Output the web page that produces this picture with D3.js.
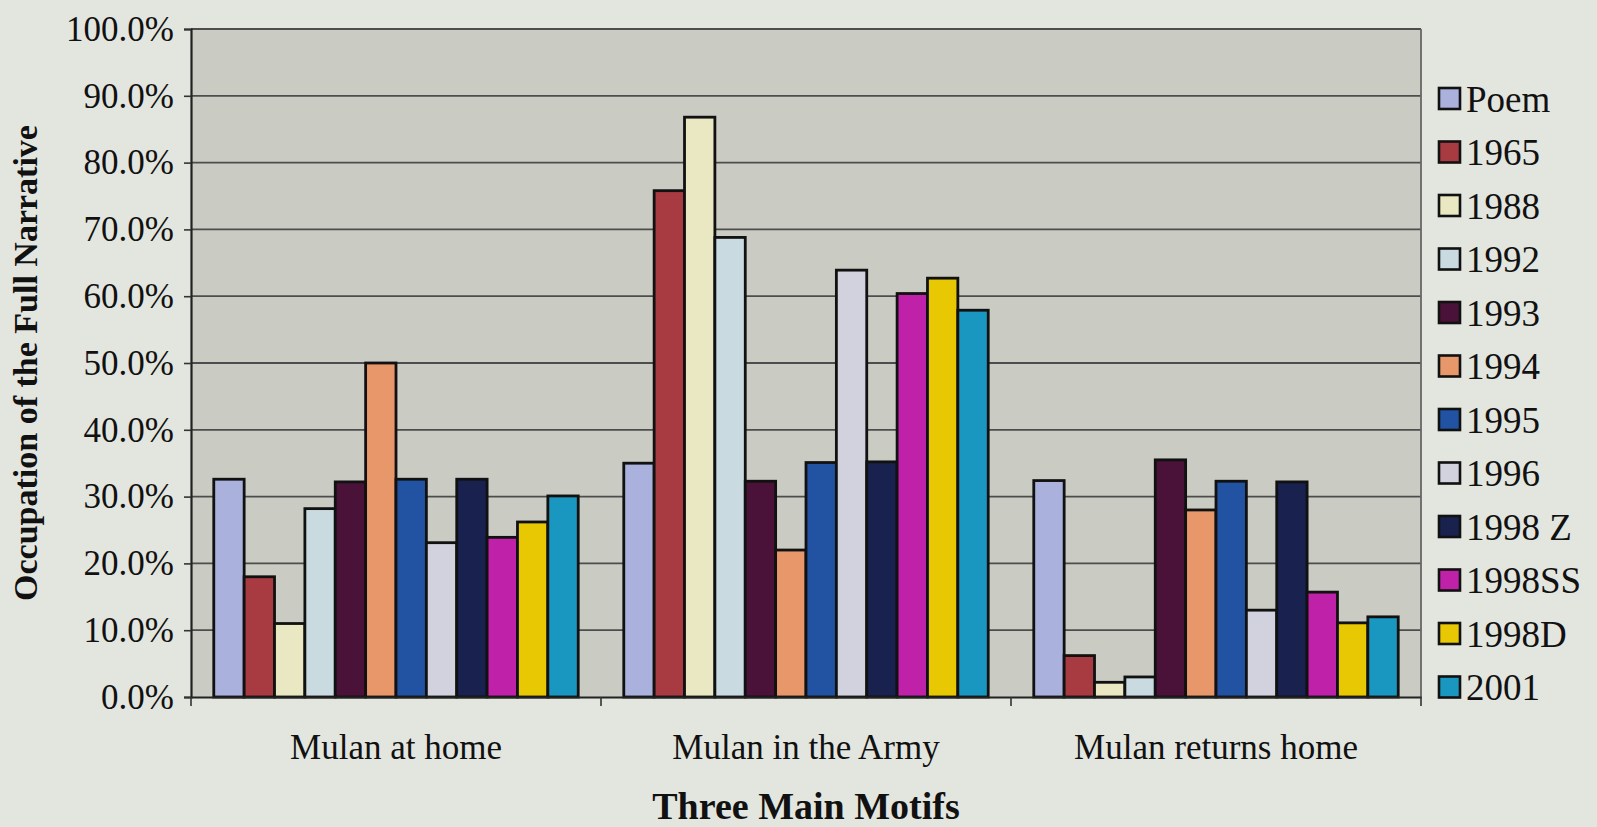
<!DOCTYPE html>
<html><head><meta charset="utf-8">
<script src="https://cdn.jsdelivr.net/npm/d3@7"></script>
<style>
html,body{margin:0;padding:0;background:#e3e5df;}
svg{display:block;}
text{font-family:"Liberation Serif","Times New Roman",serif;fill:#111;}
</style></head>
<body>
<svg id="chart" width="1597" height="827"></svg>
<script>
const categories = ["Mulan at home", "Mulan in the Army", "Mulan returns home"];
const series = ["Poem","1965","1988","1992","1993","1994","1995","1996","1998 Z","1998SS","1998D","2001"];
const colors = ["#a9b1dc","#a83a42","#e9e8c2","#c9dbe0","#4a1238","#e8976a","#2252a2","#d2d2de","#19214f","#c021a9","#e8c802","#1a97c0"];
const homeValues   = [32.6, 18.0, 11.0, 28.2, 32.2, 50.0, 32.6, 23.1, 32.6, 23.9, 26.2, 30.1];
const armyValues   = [35.0, 75.8, 86.8, 68.8, 32.3, 22.0, 35.1, 63.9, 35.2, 60.4, 62.7, 57.9];
const returnValues = [32.4, 6.2, 2.2, 3.0, 35.5, 28.0, 32.3, 13.0, 32.2, 15.7, 11.1, 12.0];
const yTicks = [0,10,20,30,40,50,60,70,80,90,100];
const yTitle = "Occupation of the Full Narrative";
const xTitle = "Three Main Motifs";

const valuesByCat = [homeValues, armyValues, returnValues];

const svg = d3.select("#chart");
const m = {left:191, top:29, right:1421, bottom:697};

const x0 = d3.scaleBand().domain(categories).range([m.left, m.right]).paddingInner(0).paddingOuter(0);
const x1 = d3.scaleBand().domain(series).range([0, x0.bandwidth()]).paddingInner(0).paddingOuter(0.75);
const y = d3.scaleLinear().domain([0,100]).range([m.bottom, m.top]);
const color = d3.scaleOrdinal().domain(series).range(colors);

// plot background
svg.append("rect").attr("x",m.left).attr("y",m.top)
  .attr("width",m.right-m.left).attr("height",m.bottom-m.top)
  .attr("fill","#cacbc3");

// gridlines
svg.append("g").selectAll("line").data(yTicks.filter(d=>d>0)).join("line")
  .attr("x1",m.left).attr("x2",m.right)
  .attr("y1",d=>y(d)).attr("y2",d=>y(d))
  .attr("stroke","#4d4d4d").attr("stroke-width",1.8);

// right border
svg.append("line").attr("x1",m.right).attr("x2",m.right).attr("y1",m.top).attr("y2",m.bottom)
  .attr("stroke","#666").attr("stroke-width",1.8);

// bars
const groups = svg.append("g").selectAll("g").data(categories).join("g")
  .attr("transform",d=>`translate(${x0(d)},0)`);
groups.each(function(cat,ci){
  const vals = valuesByCat[ci];
  d3.select(this).selectAll("rect").data(series.map((s,i)=>({s, v:vals[i]}))).join("rect")
    .attr("x",d=>x1(d.s)).attr("width",x1.bandwidth())
    .attr("y",d=>y(d.v)).attr("height",d=>y(0)-y(d.v))
    .attr("fill",d=>color(d.s)).attr("stroke","#111").attr("stroke-width",2.8);
});

// y axis
const yAxis = svg.append("g").attr("transform",`translate(${m.left},0)`)
  .call(d3.axisLeft(y).tickValues(yTicks).tickSize(7).tickPadding(10).tickFormat(d=>d.toFixed(1)+"%"));
yAxis.select(".domain").attr("stroke","#222").attr("stroke-width",2.2);
yAxis.selectAll(".tick line").attr("stroke","#333").attr("stroke-width",1.6);
yAxis.selectAll("text").attr("font-size",35).attr("font-family","Liberation Serif").attr("fill","#222");

// x axis
const xAxis = svg.append("g").attr("transform",`translate(0,${m.bottom})`)
  .call(d3.axisBottom(x0).tickSize(0).tickPadding(0));
xAxis.select(".domain").attr("stroke","#222").attr("stroke-width",2.2);
xAxis.selectAll("text").attr("font-size",35).attr("font-family","Liberation Serif").attr("fill","#222")
  .attr("dy",null).attr("y",62);
// category boundary ticks
const bounds = categories.map(c=>x0(c)).concat([m.right]);
svg.append("g").selectAll("line").data(bounds).join("line")
  .attr("x1",d=>d).attr("x2",d=>d).attr("y1",m.bottom).attr("y2",m.bottom+9)
  .attr("stroke","#333").attr("stroke-width",1.6);

// titles
svg.append("text").attr("transform",`translate(37,${(m.top+m.bottom)/2}) rotate(-90)`)
  .attr("text-anchor","middle").attr("font-size",34).attr("font-weight","bold").text(yTitle);
svg.append("text").attr("x",(m.left+m.right)/2).attr("y",819)
  .attr("text-anchor","middle").attr("font-size",38).attr("font-weight","bold").text(xTitle);

// legend
const leg = svg.append("g").selectAll("g").data(series).join("g")
  .attr("transform",(d,i)=>`translate(1439,${99 + i*53.5})`);
leg.append("rect").attr("x",0).attr("y",-11).attr("width",21).attr("height",21)
  .attr("fill",d=>color(d)).attr("stroke","#111").attr("stroke-width",2.6);
leg.append("text").attr("x",27).attr("y",0).attr("dy","0.35em")
  .attr("font-size",37).attr("fill","#222").text(d=>d);
</script>
</body></html>
